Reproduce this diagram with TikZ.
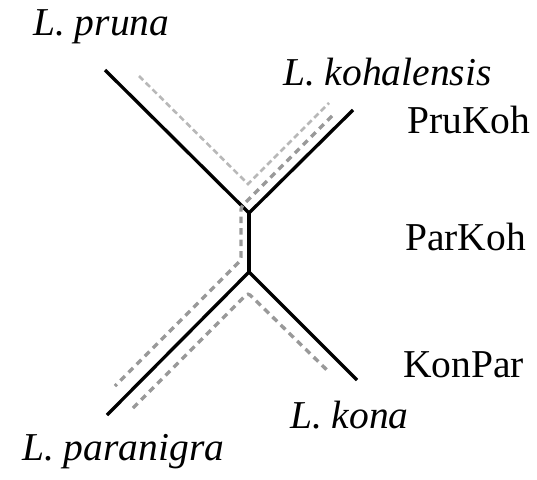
\documentclass[tikz,border=0pt]{standalone}
\usepackage{fontspec}
\setmainfont{Liberation Serif}
\begin{document}
\begin{tikzpicture}[x=1pt,y=-1pt,
  branch/.style={line width=3.3pt,black},
  pathA/.style={line width=2.6pt,color=black!28,dash pattern=on 6pt off 3.5pt},
  pathB/.style={line width=3.4pt,color=black!40,dash pattern=on 6.5pt off 5pt,rounded corners=3pt},
  lab/.style={anchor=base west,inner sep=0pt,font=\fontsize{39.5}{46}\selectfont},
  sp/.style={lab,font=\fontsize{39.5}{46}\selectfont\itshape}]
\useasboundingbox (0,0) rectangle (537,479);
% tree
\coordinate (pr) at (105,70);
\coordinate (ko) at (353,110);
\coordinate (j1) at (249,213);
\coordinate (j2) at (249,272);
\coordinate (pa) at (107,415);
\coordinate (kn) at (357,380);
\draw[branch] (pr) -- (j1) -- (ko);
\draw[branch] (j1) -- (j2);
\draw[branch] (pa) -- (j2) -- (kn);
% paths
\coordinate (a1) at (139,76);
\coordinate (a2) at (248,184);
\coordinate (a3) at (329,103);
\draw[pathA] (a1) -- (a2) -- (a3);
\coordinate (b1) at (332,116);
\coordinate (b2) at (241,207);
\coordinate (b3) at (241,260);
\coordinate (b4) at (115,386);
\draw[pathB] (b1) -- (b2) -- (b3) -- (b4);
\coordinate (c1) at (133,408);
\coordinate (c2) at (248,293);
\coordinate (c3) at (330,373);
\draw[pathB] (c1) -- (c2) -- (c3);
% labels
\node[sp] (lpr) at (33,35) {L. pruna};
\node[sp] (lko) at (283,85) {L. kohalensis};
\node[lab] (pk) at (407,133) {PruKoh};
\node[lab] (rk) at (405,250) {ParKoh};
\node[lab] (kp) at (403,377) {KonPar};
\node[sp] (lkn) at (290,428) {L. kona};
\node[sp] (lpa) at (22,460) {L. paranigra};
\end{tikzpicture}
\end{document}
